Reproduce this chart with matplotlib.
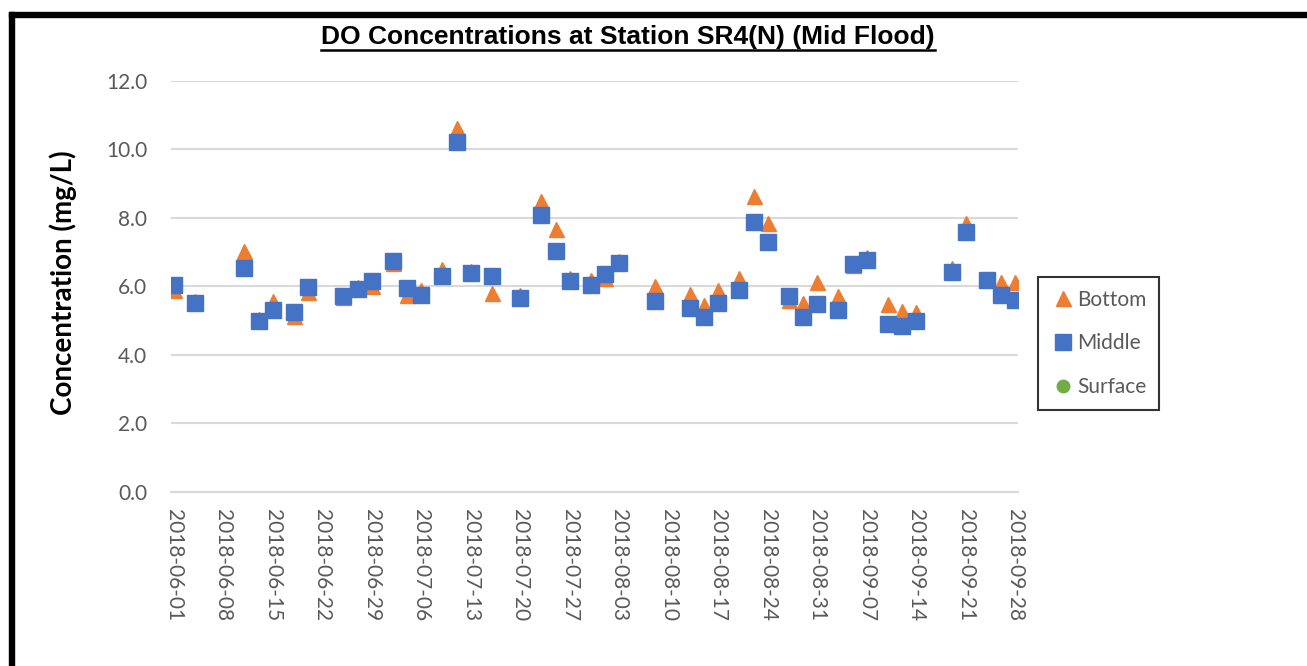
import matplotlib.pyplot as plt
import matplotlib.dates as mdates
from matplotlib.patches import Rectangle
from matplotlib.lines import Line2D
import pandas as pd

# sampling dates and DO values (mg/L)
dates = ['2018-06-01', '2018-06-04', '2018-06-11', '2018-06-13', '2018-06-15',
         '2018-06-18', '2018-06-20', '2018-06-25', '2018-06-27', '2018-06-29',
         '2018-07-02', '2018-07-04', '2018-07-06', '2018-07-09', '2018-07-11',
         '2018-07-13', '2018-07-16', '2018-07-20', '2018-07-23', '2018-07-25',
         '2018-07-27', '2018-07-30', '2018-08-01', '2018-08-03', '2018-08-08',
         '2018-08-13', '2018-08-15', '2018-08-17', '2018-08-20', '2018-08-22',
         '2018-08-24', '2018-08-27', '2018-08-29', '2018-08-31', '2018-09-03',
         '2018-09-05', '2018-09-07', '2018-09-10', '2018-09-12', '2018-09-14',
         '2018-09-19', '2018-09-21', '2018-09-24', '2018-09-26', '2018-09-28']
bottom = [5.90, 5.58, 7.04, 5.05, 5.58, 5.15, 5.83, 5.68, 5.99, 6.00,
          6.68, 5.76, 5.90, 6.51, 10.64, 6.45, 5.81, 5.75, 8.50, 7.68,
          6.25, 6.20, 6.25, 6.75, 6.01, 5.79, 5.47, 5.90, 6.25, 8.63,
          7.85, 5.60, 5.51, 6.12, 5.71, 6.62, 6.85, 5.48, 5.28, 5.25,
          6.53, 7.84, 6.22, 6.12, 6.12]
middle = [6.03, 5.52, 6.54, 4.98, 5.30, 5.26, 5.98, 5.73, 5.93, 6.15,
          6.73, 5.95, 5.76, 6.32, 10.23, 6.39, 6.32, 5.66, 8.09, 7.04,
          6.17, 6.05, 6.37, 6.70, 5.59, 5.37, 5.10, 5.52, 5.90, 7.87,
          7.31, 5.71, 5.10, 5.49, 5.30, 6.66, 6.78, 4.90, 4.86, 4.99,
          6.41, 7.59, 6.20, 5.74, 5.61]
surface = []  # no surface readings shown
tick_dates = pd.date_range('2018-06-01', '2018-09-28', freq='7D')

x = pd.to_datetime(dates)

fig = plt.figure(figsize=(13.07, 6.66), dpi=100)
ax = fig.add_axes([0.1306, 0.2613, 0.6484, 0.6171])

ax.plot(x, bottom, linestyle='none', marker='^', ms=10.8, color='#ED7D31',
        label='Bottom', zorder=3)
ax.plot(x, middle, linestyle='none', marker='s', ms=11.2, color='#4472C4',
        label='Middle', zorder=4)
ax.plot(pd.to_datetime(surface), surface, linestyle='none', marker='o', ms=9,
        color='#70AD47', label='Surface')

ax.set_ylim(0, 12)
ax.set_yticks([0, 2, 4, 6, 8, 10, 12])
ax.set_yticklabels([f'{v:.1f}' for v in [0, 2, 4, 6, 8, 10, 12]])
ax.set_xlim(pd.Timestamp('2018-06-01') - pd.Timedelta(hours=10),
            pd.Timestamp('2018-09-28') + pd.Timedelta(hours=10))
ax.set_xticks(tick_dates)
ax.xaxis.set_major_formatter(mdates.DateFormatter('%Y-%m-%d'))

ax.grid(axis='y', color='#D9D9D9', linewidth=1.5)
ax.set_axisbelow(True)
for s in ['top', 'right', 'left']:
    ax.spines[s].set_visible(False)
ax.spines['bottom'].set_color('#D9D9D9')
ax.spines['bottom'].set_linewidth(1.5)
ax.tick_params(length=0, colors='#595959', labelsize=15)
ax.tick_params(axis='y', pad=17)
ax.tick_params(axis='x', pad=12)
for lbl in ax.get_xticklabels():
    lbl.set_rotation(-90)
    lbl.set_family('Lato')
for lbl in ax.get_yticklabels():
    lbl.set_family('Lato')

fig.text(0.048, 0.575, 'Concentration (mg/L)', rotation=90, ha='center',
         va='center', fontsize=20, fontweight='bold', family='Lato')

title = fig.text(0.4805, 0.945, 'DO Concentrations at Station SR4(N) (Mid Flood)',
                 ha='center', va='center', fontsize=19, fontweight='bold',
                 family='Liberation Sans')

leg = fig.legend(loc='upper left', bbox_to_anchor=(1038 / 1307, 1 - 277 / 666),
                 frameon=True, fancybox=False, handletextpad=0.1,
                 handlelength=1.2, labelspacing=1.15, borderpad=0.6,
                 borderaxespad=0, prop={'family': 'Lato', 'size': 15})
leg.get_frame().set_edgecolor('black')
leg.get_frame().set_linewidth(1.5)
for t in leg.get_texts():
    t.set_color('#595959')

# underline the title
fig.canvas.draw()
bb = title.get_window_extent().transformed(fig.transFigure.inverted())
fig.add_artist(Line2D([bb.x0, bb.x1], [bb.y0 - 0.002, bb.y0 - 0.002],
                      color='black', linewidth=1.8, transform=fig.transFigure))

# black frame on top and left
fig.add_artist(Rectangle((9 / 1307, 1 - 17 / 666), 1 - 9 / 1307, 5 / 666,
                         transform=fig.transFigure, color='black'))
fig.add_artist(Rectangle((9 / 1307, 0), 5 / 1307, 1 - 12 / 666,
                         transform=fig.transFigure, color='black'))

fig.savefig('out.png', dpi=100)
